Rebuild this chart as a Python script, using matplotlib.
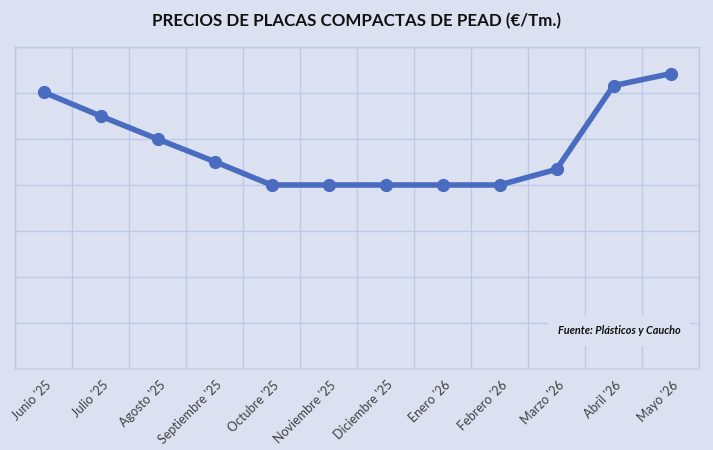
import matplotlib
matplotlib.use("Agg")
import matplotlib.pyplot as plt

months = ["Junio '25", "Julio '25", "Agosto '25", "Septiembre '25", "Octubre '25",
          "Noviembre '25", "Diciembre '25", "Enero '26", "Febrero '26", "Marzo '26",
          "Abril '26", "Mayo '26"]
prices = [6.02, 5.5, 5.0, 4.51, 4.0, 4.0, 4.0, 4.0, 4.0, 4.34, 6.16, 6.42]

title = "PRECIOS DE PLACAS COMPACTAS DE PEAD (€/Tm.)"
source = "Fuente: Plásticos y Caucho"

bg = "#dce1f1"
grid_c = "#bccae8"
line_c = "#4a6cc0"

fig = plt.figure(figsize=(7.13, 4.5), dpi=100, facecolor=bg)
ax = fig.add_axes([15/713, 1-369/450, (699-15)/713, (369-47)/450])
ax.set_facecolor(bg)

x = list(range(len(months)))
ax.plot(x, prices, color=line_c, lw=4, marker="o", ms=8.5, solid_capstyle="round",
        zorder=3, clip_on=False)

ax.set_xlim(-0.5, len(months)-0.5)
ax.set_ylim(0, 7)
ax.set_yticks(range(0, 8))
ax.set_yticklabels([])
ax.tick_params(axis="y", length=0)
ax.set_xticks([i + 0.5 for i in range(-1, len(months))], minor=False)
ax.set_xticklabels([])
ax.tick_params(axis="x", length=0)
ax.grid(True, color=grid_c, lw=1, zorder=0)

for s in ["top", "left", "right"]:
    ax.spines[s].set_color(grid_c)
    ax.spines[s].set_linewidth(1)
ax.spines["bottom"].set_color("#cdd2e0")
ax.spines["bottom"].set_linewidth(1.2)

for i, m in enumerate(months):
    ax.annotate(m, xy=(i, 0), xycoords="data", xytext=(1, -7), textcoords="offset points",
                rotation=45, ha="right", va="top", rotation_mode="anchor",
                fontsize=9, color="#404040", family="Lato")

fig.text(0.5, 1-21/450, title, ha="center", va="center", fontsize=12.2,
         fontweight="bold", color="#111111", family="Lato")

ax.text(619/713, 1-331/450, source, transform=fig.transFigure, ha="center", va="center",
        fontsize=7.8, fontweight="bold", style="italic", color="#111111", family="Lato",
        bbox=dict(boxstyle="square,pad=0.9", fc=bg, ec="none"), zorder=4)

fig.savefig("out.png", dpi=100, facecolor=bg)
